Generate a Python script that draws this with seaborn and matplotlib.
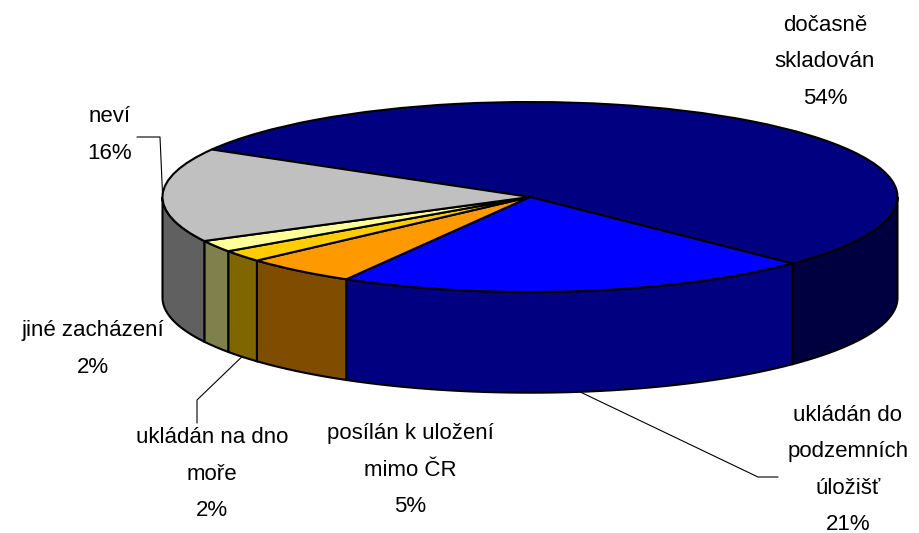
import numpy as np
import matplotlib
matplotlib.use("Agg")
import matplotlib.pyplot as plt
import matplotlib.colors as mcolors
import seaborn as sns

# data
labels = ["dočasně\nskladován", "ukládán do\npodzemních\núložišť", "posílán k uložení\nmimo ČR",
          "ukládán na dno\nmoře", "jiné zacházení", "neví"]
shares = [54, 21, 5, 2, 2, 16]
top_colors = ["#000080", "#0000FF", "#FF9900", "#FFCC00", "#FFFF99", "#C0C0C0"]

start = 150      # degrees, first slice starts here and goes clockwise
depth = 1.06     # pie thickness in units of the vertical radius

sns.set_theme(style="white")
plt.rcParams["font.family"] = ["Liberation Sans", "DejaVu Sans"]

fig = plt.figure(figsize=(9.2, 5.33), dpi=100)
ax = fig.add_axes([0, 0, 1, 1])

# pixel -> data helpers (pie centre at 530,197 px, radii 367.5 x 95 px)
CX, CY, RX, RY = 530, 197, 367.5, 95
def px(x):
    return (x - CX) / RX
def py(y):
    return (CY - y) / RY

fr = np.array(shares) / sum(shares)
bounds = start - 360 * np.concatenate([[0], np.cumsum(fr)])

# side walls (front half only)
for i, col in enumerate(top_colors):
    lo, hi = bounds[i + 1], bounds[i]
    side = tuple(c * 0.5 for c in mcolors.to_rgb(col))
    for k in (-360, 0, 360):
        a0, a1 = max(lo, -180 + k), min(hi, k)
        if a1 > a0:
            t = np.radians(np.linspace(a0, a1, 120))
            xs = np.concatenate([np.cos(t), np.cos(t[::-1])])
            ys = np.concatenate([np.sin(t), np.sin(t[::-1]) - depth])
            ax.fill(xs, ys, facecolor=side, edgecolor="black", lw=1.5, zorder=1)

# top face
ax.pie(shares, colors=top_colors, startangle=start, counterclock=False, radius=1,
       wedgeprops=dict(edgecolor="black", linewidth=1.5, zorder=2))

ax.set_aspect("auto")
ax.set_xlim(px(0), px(920))
ax.set_ylim(py(533), py(0))
ax.axis("off")

# labels
label_pos = [(825, 62), (848, 470), (410, 470), (212, 474), (93, 349), (110, 135)]
for lab, s, (x, y) in zip(labels, shares, label_pos):
    ax.text(px(x), py(y), f"{lab}\n{s}%", ha="center", va="center", fontsize=16,
            linespacing=1.95, color="black", zorder=5)

# leader lines
mids = np.radians((bounds[:-1] + bounds[1:]) / 2)
m = mids[5]
ax.plot([np.cos(m), px(160), px(137)], [np.sin(m), py(137), py(137)], color="black", lw=0.8, zorder=4)
m = mids[3]
ax.plot([np.cos(m), px(197), px(197)], [np.sin(m) - depth, py(400), py(423)], color="black", lw=0.8, zorder=4)
m = mids[1]
ax.plot([np.cos(m), px(758), px(778)], [np.sin(m) - depth, py(477), py(477)], color="black", lw=0.8, zorder=4)

fig.savefig("out.png", dpi=100)
